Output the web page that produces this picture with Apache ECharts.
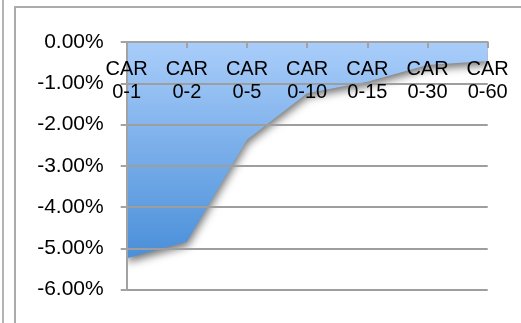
<!DOCTYPE html>
<html>
<head>
<meta charset="utf-8">
<style>
  html, body { margin: 0; padding: 0; background: #fff; }
  #chart { width: 521px; height: 323px; }
</style>
<script src="https://cdn.jsdelivr.net/npm/echarts@6/dist/echarts.min.js"></script>
</head>
<body>
<div id="chart"></div>
<script>
// Cumulative abnormal return windows (days) and mean CAR in percent
const categories = ['CAR\n0-1', 'CAR\n0-2', 'CAR\n0-5', 'CAR\n0-10', 'CAR\n0-15', 'CAR\n0-30', 'CAR\n0-60'];
const carValues = [-5.24, -4.84, -2.37, -1.24, -0.96, -0.56, -0.46];
const yTicks = { min: -6, max: 0, step: 1 };

const chart = echarts.init(document.getElementById('chart'), null, { renderer: 'canvas' });
const grey = '#a3a3a3';
const font = 'Liberation Sans, Arial, Helvetica, sans-serif';

chart.setOption({
  animation: false,
  backgroundColor: '#fff',
  graphic: [
    { type: 'line', shape: { x1: 3, y1: 0, x2: 3, y2: 323 }, style: { stroke: '#b4b4b4', lineWidth: 2 } },
    { type: 'polyline', shape: { points: [[15, 323], [15, 7], [521, 7]] }, style: { stroke: '#ababab', lineWidth: 2, fill: null } }
  ],
  grid: { left: 126.7, right: 33.3, top: 42, bottom: 33.3, containLabel: false, outerBoundsMode: 'none' },
  xAxis: {
    type: 'category',
    position: 'top',
    z: 10,
    data: categories,
    boundaryGap: false,
    axisLine: { onZero: false, lineStyle: { color: grey, width: 2 } },
    axisTick: { show: true, inside: true, length: 6, lineStyle: { color: grey, width: 2 } },
    axisLabel: {
      inside: true,
      color: '#000', fontFamily: font, fontSize: 20, lineHeight: 23,
      margin: 16, interval: 0, align: 'center'
    },
    splitLine: { show: false }
  },
  yAxis: {
    type: 'value',
    z: 10,
    min: yTicks.min, max: yTicks.max, interval: yTicks.step,
    axisLine: { show: true, lineStyle: { color: grey, width: 2 } },
    axisTick: { show: true, length: 6, lineStyle: { color: grey, width: 2 } },
    axisLabel: {
      color: '#000', fontFamily: font, fontSize: 21, margin: 23,
      formatter: v => v.toFixed(2) + '%'
    },
    splitLine: { show: true, lineStyle: { color: '#9e9e9e', width: 2 } }
  },
  series: [{
    type: 'line',
    data: carValues,
    showSymbol: false,
    symbol: 'none',
    lineStyle: { width: 0, opacity: 0 },
    areaStyle: {
      color: new echarts.graphic.LinearGradient(0, 0, 0, 1, [
        { offset: 0, color: '#a9cdfa' },
        { offset: 1, color: '#4a8fd9' }
      ]),
      opacity: 1,
      shadowColor: 'rgba(0,0,0,0.55)',
      shadowBlur: 8,
      shadowOffsetX: 1,
      shadowOffsetY: 4
    },
    z: 2
  }]
});
</script>
</body>
</html>
